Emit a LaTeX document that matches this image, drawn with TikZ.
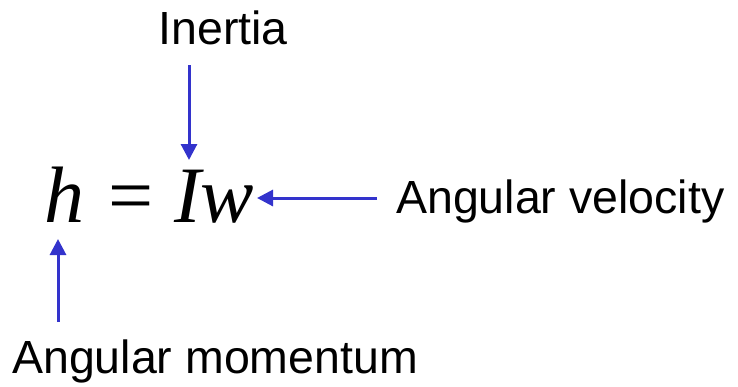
\documentclass[tikz,border=0pt]{standalone}
\usepackage{fontspec}
\setmainfont{Liberation Sans}
\newfontfamily\eqfont{Liberation Serif}
\usetikzlibrary{arrows.meta}
\definecolor{arrblue}{RGB}{51,51,204}
\tikzset{
  lbl/.style={inner sep=0pt, font=\fontsize{46.5}{50}\selectfont},
  eqn/.style={inner sep=0pt, font=\eqfont\fontsize{80}{84}\selectfont},
  arr/.style={draw=arrblue, line width=3pt, -{Triangle[length=16pt,width=16pt]}}
}
\begin{document}
\begin{tikzpicture}[x=1pt,y=-1pt]
\useasboundingbox (0,0) rectangle (738,386);
\node[lbl, anchor=base] (inertia) at (223,44) {Inertia};
\node[eqn, anchor=base west] (eq) at (44,222) {\textit{h}\hspace{24pt}=\hspace{21pt}\textit{Iw}};
\node[lbl, anchor=base west] (vel) at (396,213) {Angular velocity};
\node[lbl, anchor=base west] (mom) at (12,373) {Angular momentum};
\coordinate (iTop) at (189,65);
\coordinate (iTip) at (189,160);
\coordinate (vStart) at (377,198);
\coordinate (vTip) at (257,198);
\coordinate (mStart) at (58,322);
\coordinate (mTip) at (58,239);
\draw[arr] (iTop) -- (iTip);
\draw[arr] (vStart) -- (vTip);
\draw[arr] (mStart) -- (mTip);
\end{tikzpicture}
\end{document}
